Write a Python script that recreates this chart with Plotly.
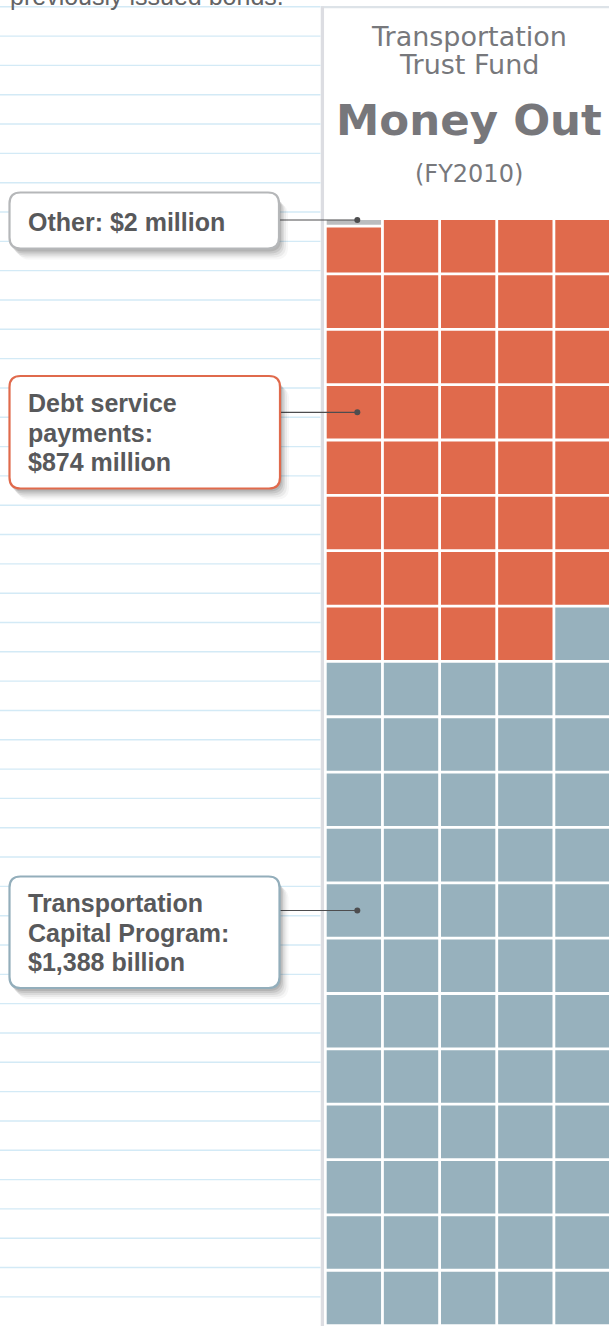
import plotly.graph_objects as go

# ---------------- data ----------------
categories = ["Other", "Debt service payments", "Transportation Capital Program"]
values_musd = [2, 874, 1388]          # FY2010, $ million
label_lines = [
    ["Other: $2 million"],
    ["Debt service", "payments:", "$874 million"],
    ["Transportation", "Capital Program:", "$1,388 billion"],
]
title_lines = ["Transportation", "Trust Fund"]
title_main = "Money Out"
title_sub = "(FY2010)"
intro_tail = "previously issued bonds."
n_cells = 100

# ---------------- styles / layout constants ----------------
W, H = 609, 1326
COLORS = ["#bbbdbf", "#e06a4c", "#97b1bd"]
BORDERS = ["#b5b7b9", "#e06a4c", "#93aebb"]
TEXT_DARK = "#58595b"
TITLE_GRAY = "#77787c"
RULE_COLOR = "#d3eaf6"

NCOLS = 5
GRID_LEFT_PX, GRID_TOP_PX = 326.7, 220.0
PITCH_X, PITCH_Y = 57.15, 55.35
GAP_PX = 2.8

# label boxes (pixel layout): box x0,y0,x1,y1 ; text baselines ; anchor row (None = grid top)
LABEL_LAYOUT = [
    dict(box=(9.5, 192.5, 279.0, 248.5), baselines=[230.7], anchor_row=None),
    dict(box=(9.5, 376.0, 280.0, 488.5), baselines=[411.7, 441.2, 470.5], anchor_row=3),
    dict(box=(9.5, 876.5, 279.5, 988.0), baselines=[911.7, 941.2, 970.7], anchor_row=12),
]
DOT_X_PX = 357.3
LABEL_FONT = 25


def PX(x):
    return x / W


def PY(y):
    return 1 - y / H


def xd(px):  # pixel -> data x
    return (px - GRID_LEFT_PX) / PITCH_X


def yd(py):  # pixel -> data y
    return (py - GRID_TOP_PX) / PITCH_Y


cw = 1 - GAP_PX / PITCH_X
ch = 1 - GAP_PX / PITCH_Y
gy = GAP_PX / PITCH_Y

# ---------------- waffle cells from the values ----------------
total = sum(values_musd)
unit = total / n_cells
other_frac = values_musd[0] / unit
debt_cells = round(values_musd[1] / unit)
cap_cells = n_cells - debt_cells


def rect(xs, ys, x0, y0, x1, y1):
    xs += [x0, x1, x1, x0, x0, None]
    ys += [y0, y0, y1, y1, y0, None]


fig = go.Figure()

# Other: thin strip at the top of the first cell
ox, oy = [], []
strip_h = other_frac * ch
rect(ox, oy, 0, 0, cw, strip_h)

# Debt cells
dx, dy = [], []
for i in range(debt_cells):
    r, c = divmod(i, NCOLS)
    top = r + (strip_h + gy if i == 0 else 0)
    rect(dx, dy, c, top, c + cw, r + ch)

# Capital program cells
cx, cy = [], []
for i in range(debt_cells, debt_cells + cap_cells):
    r, c = divmod(i, NCOLS)
    rect(cx, cy, c, r, c + cw, r + ch)

for name, xs, ys, col in zip(categories, [ox, dx, cx], [oy, dy, cy], COLORS):
    fig.add_trace(go.Scatter(x=xs, y=ys, mode="lines", fill="toself", fillcolor=col,
                             line=dict(width=0, color=col), name=name,
                             hoverinfo="name", showlegend=False))

# connectors + dots
lx, ly, px_, py_ = [], [], [], []
for lay in LABEL_LAYOUT:
    ay = 0 if lay["anchor_row"] is None else lay["anchor_row"] + ch / 2
    lx += [xd(lay["box"][2]), xd(DOT_X_PX), None]
    ly += [ay, ay, None]
    px_.append(xd(DOT_X_PX))
    py_.append(ay)
fig.add_trace(go.Scatter(x=lx, y=ly, mode="lines", line=dict(color="#4d4d4f", width=1.2),
                         hoverinfo="skip", showlegend=False))
fig.add_trace(go.Scatter(x=px_, y=py_, mode="markers", marker=dict(color="#4d4d4f", size=6),
                         hoverinfo="skip", showlegend=False))

# ---------------- decorations ----------------
shapes = []
# ruled lines on the left
y = 182.7 - 6 * 29.32
while y < H:
    shapes.append(dict(type="line", xref="paper", yref="paper", x0=0, x1=PX(320.5),
                       y0=PY(y), y1=PY(y), line=dict(color=RULE_COLOR, width=1.4), layer="below"))
    y += 29.32
# panel top and left border
shapes.append(dict(type="line", xref="paper", yref="paper", x0=PX(321), x1=1, y0=PY(7.2), y1=PY(7.2),
                   line=dict(color="#dde3e8", width=2.2), layer="below"))
shapes.append(dict(type="line", xref="paper", yref="paper", x0=PX(322.4), x1=PX(322.4), y0=PY(6.5), y1=0,
                   line=dict(color="#dcdde2", width=3.3), layer="below"))


def rounded_path(x0, y0, x1, y1, r):
    pts = [
        ("M", x0 + r, y0), ("L", x1 - r, y0), ("Q", x1, y0, x1, y0 + r),
        ("L", x1, y1 - r), ("Q", x1, y1, x1 - r, y1), ("L", x0 + r, y1),
        ("Q", x0, y1, x0, y1 - r), ("L", x0, y0 + r), ("Q", x0, y0, x0 + r, y0),
    ]
    out = []
    for p in pts:
        cmd = p[0]
        coords = p[1:]
        s = " ".join(f"{PX(coords[k]):.5f},{PY(coords[k + 1]):.5f}" for k in range(0, len(coords), 2))
        out.append(f"{cmd}{s}")
    return " ".join(out) + " Z"


annotations = []
for lay, lines, bcol in zip(LABEL_LAYOUT, label_lines, BORDERS):
    x0, y0, x1, y1 = lay["box"]
    for ddx, ddy, a in [(9, 11, 0.04), (7, 9, 0.06), (5, 7, 0.08), (3.5, 5, 0.10), (2, 3, 0.12)]:
        shapes.append(dict(type="path", xref="paper", yref="paper",
                           path=rounded_path(x0 + ddx - 1, y0 + ddy, x1 + ddx, y1 + ddy, 12),
                           fillcolor=f"rgba(40,40,40,{a})", line=dict(width=0), layer="above"))
    shapes.append(dict(type="path", xref="paper", yref="paper",
                       path=rounded_path(x0, y0, x1, y1, 11),
                       fillcolor="white", line=dict(color=bcol, width=2.2), layer="above"))
    for txt, base in zip(lines, lay["baselines"]):
        annotations.append(dict(text=f"<b>{txt}</b>", xref="paper", yref="paper",
                                x=PX(26), xanchor="left", y=PY(base - 0.3465 * LABEL_FONT),
                                yanchor="middle", showarrow=False,
                                font=dict(family="Liberation Sans, Arial, sans-serif",
                                          size=LABEL_FONT, color=TEXT_DARK)))

# titles
TCX = 468.5
TS = 27
for txt, base in zip(title_lines, [46.0, 73.8]):
    annotations.append(dict(text=txt, xref="paper", yref="paper", x=PX(TCX), xanchor="center",
                            y=PY(base - 0.346 * TS), yanchor="middle", showarrow=False,
                            font=dict(family="DejaVu Sans", size=TS, color=TITLE_GRAY)))
annotations.append(dict(text=f"<b>{title_main}</b>", xref="paper", yref="paper", x=PX(TCX),
                        xanchor="center", y=PY(135 - 0.346 * 43.5), yanchor="middle", showarrow=False,
                        font=dict(family="DejaVu Sans", size=43.5, color="#77777b")))
annotations.append(dict(text=title_sub, xref="paper", yref="paper", x=PX(TCX), xanchor="center",
                        y=PY(182 - 0.346 * 24), yanchor="middle", showarrow=False,
                        font=dict(family="DejaVu Sans", size=24, color=TITLE_GRAY)))
annotations.append(dict(text=intro_tail, xref="paper", yref="paper", x=PX(8), xanchor="left",
                        y=PY(4.5 - 0.3465 * 25), yanchor="middle", showarrow=False,
                        font=dict(family="Liberation Sans, Arial, sans-serif", size=25, color="#636466")))

fig.update_layout(
    width=W, height=H, margin=dict(l=0, r=0, t=0, b=0),
    paper_bgcolor="white", plot_bgcolor="rgba(0,0,0,0)",
    xaxis=dict(range=[xd(0), xd(W)], visible=False, fixedrange=True),
    yaxis=dict(range=[yd(H), yd(0)], visible=False, fixedrange=True),
    shapes=shapes, annotations=annotations, showlegend=False,
)

fig.write_html("out.html", config={"displayModeBar": False},
               post_script="document.body.style.margin='0';document.body.style.overflow='hidden';")
